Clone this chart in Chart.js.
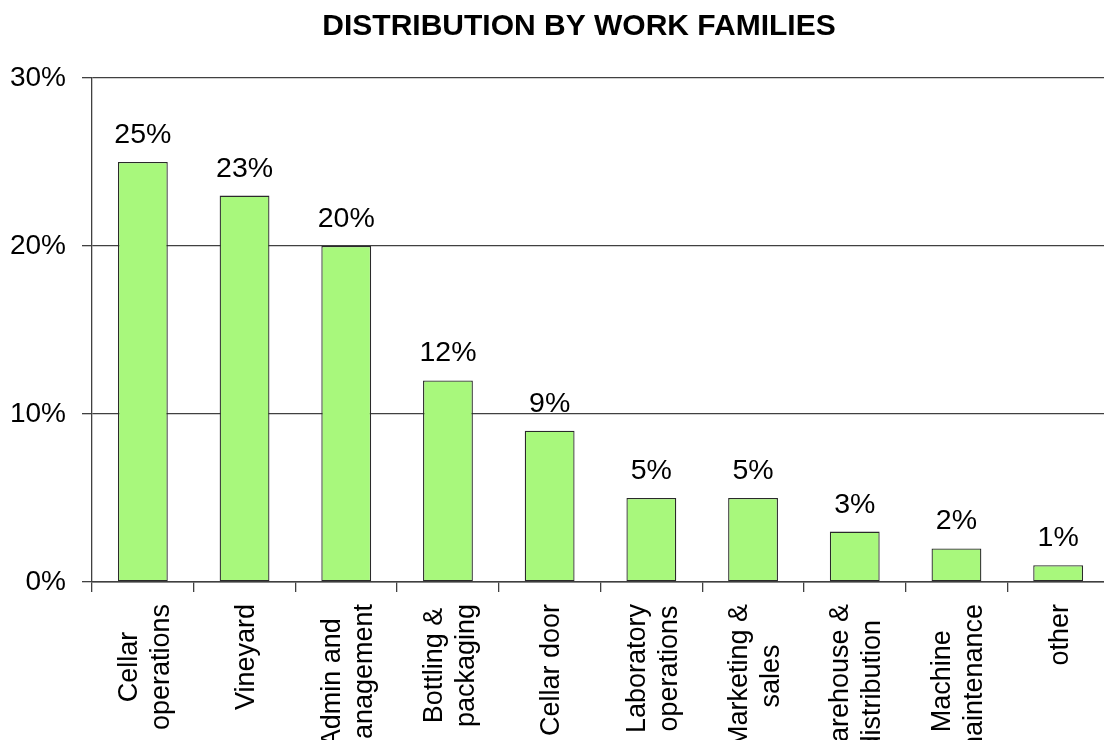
<!DOCTYPE html>
<html>
<head>
<meta charset="utf-8">
<script src="https://cdn.jsdelivr.net/npm/chart.js@4/dist/chart.umd.min.js"></script>
<style>
  html, body { margin: 0; padding: 0; background: #ffffff; overflow: hidden; width: 1104px; height: 740px; }
  canvas { display: block; }
</style>
</head>
<body>
<canvas id="c" width="1151" height="740" style="width:1151px;height:740px"></canvas>
<script>
const chartTitle = "DISTRIBUTION BY WORK FAMILIES";
const categories = [
  ["Cellar", "operations"],
  ["Vineyard"],
  ["Admin and", "management"],
  ["Bottling &", "packaging"],
  ["Cellar door"],
  ["Laboratory", "operations"],
  ["Marketing &", "sales"],
  ["Warehouse &", "distribution"],
  ["Machine", "maintenance"],
  ["other"]
];
const shares = [25, 23, 20, 12, 9, 5, 5, 3, 2, 1];
const yTicks = [0, 10, 20, 30];

const FONT = "'Liberation Sans', Arial, sans-serif";

const titlePlugin = {
  id: 'customTitle',
  afterDraw(chart) {
    const ctx = chart.ctx;
    ctx.save();
    ctx.font = "bold 30px " + FONT;
    ctx.fillStyle = "#000";
    ctx.textAlign = "center";
    ctx.textBaseline = "alphabetic";
    ctx.fillText(chartTitle, 579, 35);
    ctx.restore();
  }
};

const valueLabels = {
  id: 'valueLabels',
  afterDatasetsDraw(chart) {
    const ctx = chart.ctx;
    const meta = chart.getDatasetMeta(0);
    ctx.save();
    ctx.font = "28.5px " + FONT;
    ctx.fillStyle = "#000";
    ctx.textAlign = "center";
    ctx.textBaseline = "alphabetic";
    meta.data.forEach((bar, i) => {
      ctx.fillText(shares[i] + "%", bar.x, bar.y - 19);
    });
    ctx.restore();
  }
};

const xLabels = {
  id: 'xLabels',
  afterDraw(chart) {
    const ctx = chart.ctx;
    const xs = chart.scales.x;
    const top = xs.bottom + 12;
    const size = 27, lh = 32;
    ctx.save();
    ctx.font = size + "px " + FONT;
    ctx.fillStyle = "#000";
    ctx.textAlign = "center";
    ctx.textBaseline = "alphabetic";
    categories.forEach((lines, i) => {
      const cx = xs.getPixelForValue(i);
      const maxW = Math.max(...lines.map(l => ctx.measureText(l).width));
      ctx.save();
      ctx.translate(cx, top + maxW / 2);
      ctx.rotate(-Math.PI / 2);
      const n = lines.length;
      lines.forEach((l, k) => {
        const off = (k - (n - 1) / 2) * lh + size * 0.716 / 2;
        ctx.fillText(l, 0, off);
      });
      ctx.restore();
    });
    ctx.restore();
  }
};

new Chart(document.getElementById('c'), {
  type: 'bar',
  data: {
    labels: categories.map(c => c.join(' ')),
    datasets: [{
      data: shares,
      backgroundColor: '#a8f87c',
      borderColor: '#2a2a2a',
      borderWidth: 1.3,
      borderSkipped: false,
      categoryPercentage: 1.0,
      barPercentage: 0.49
    }]
  },
  options: {
    responsive: false,
    animation: false,
    devicePixelRatio: 1,
    layout: { padding: { left: 10, right: 42, top: 78, bottom: 148 } },
    plugins: {
      legend: { display: false },
      title: { display: false },
      tooltip: { enabled: false }
    },
    scales: {
      x: {
        offset: true,
        ticks: { display: false },
        grid: {
          offset: true,
          drawOnChartArea: false,
          drawTicks: true,
          tickLength: 10,
          color: '#404040',
          lineWidth: 1.3
        },
        border: { color: '#404040', width: 1.5 }
      },
      y: {
        min: 0,
        max: 30,
        afterBuildTicks(scale) { scale.ticks = yTicks.map(v => ({ value: v })); },
        afterFit(scale) { scale.width = 82; },
        ticks: {
          font: { family: FONT, size: 28 },
          color: '#000',
          padding: 16,
          callback: v => v + '%'
        },
        grid: {
          color: '#404040',
          lineWidth: 1.3,
          tickLength: 10,
          drawTicks: true
        },
        border: { color: '#404040', width: 1.3 }
      }
    }
  },
  plugins: [titlePlugin, valueLabels, xLabels]
});
</script>
</body>
</html>
